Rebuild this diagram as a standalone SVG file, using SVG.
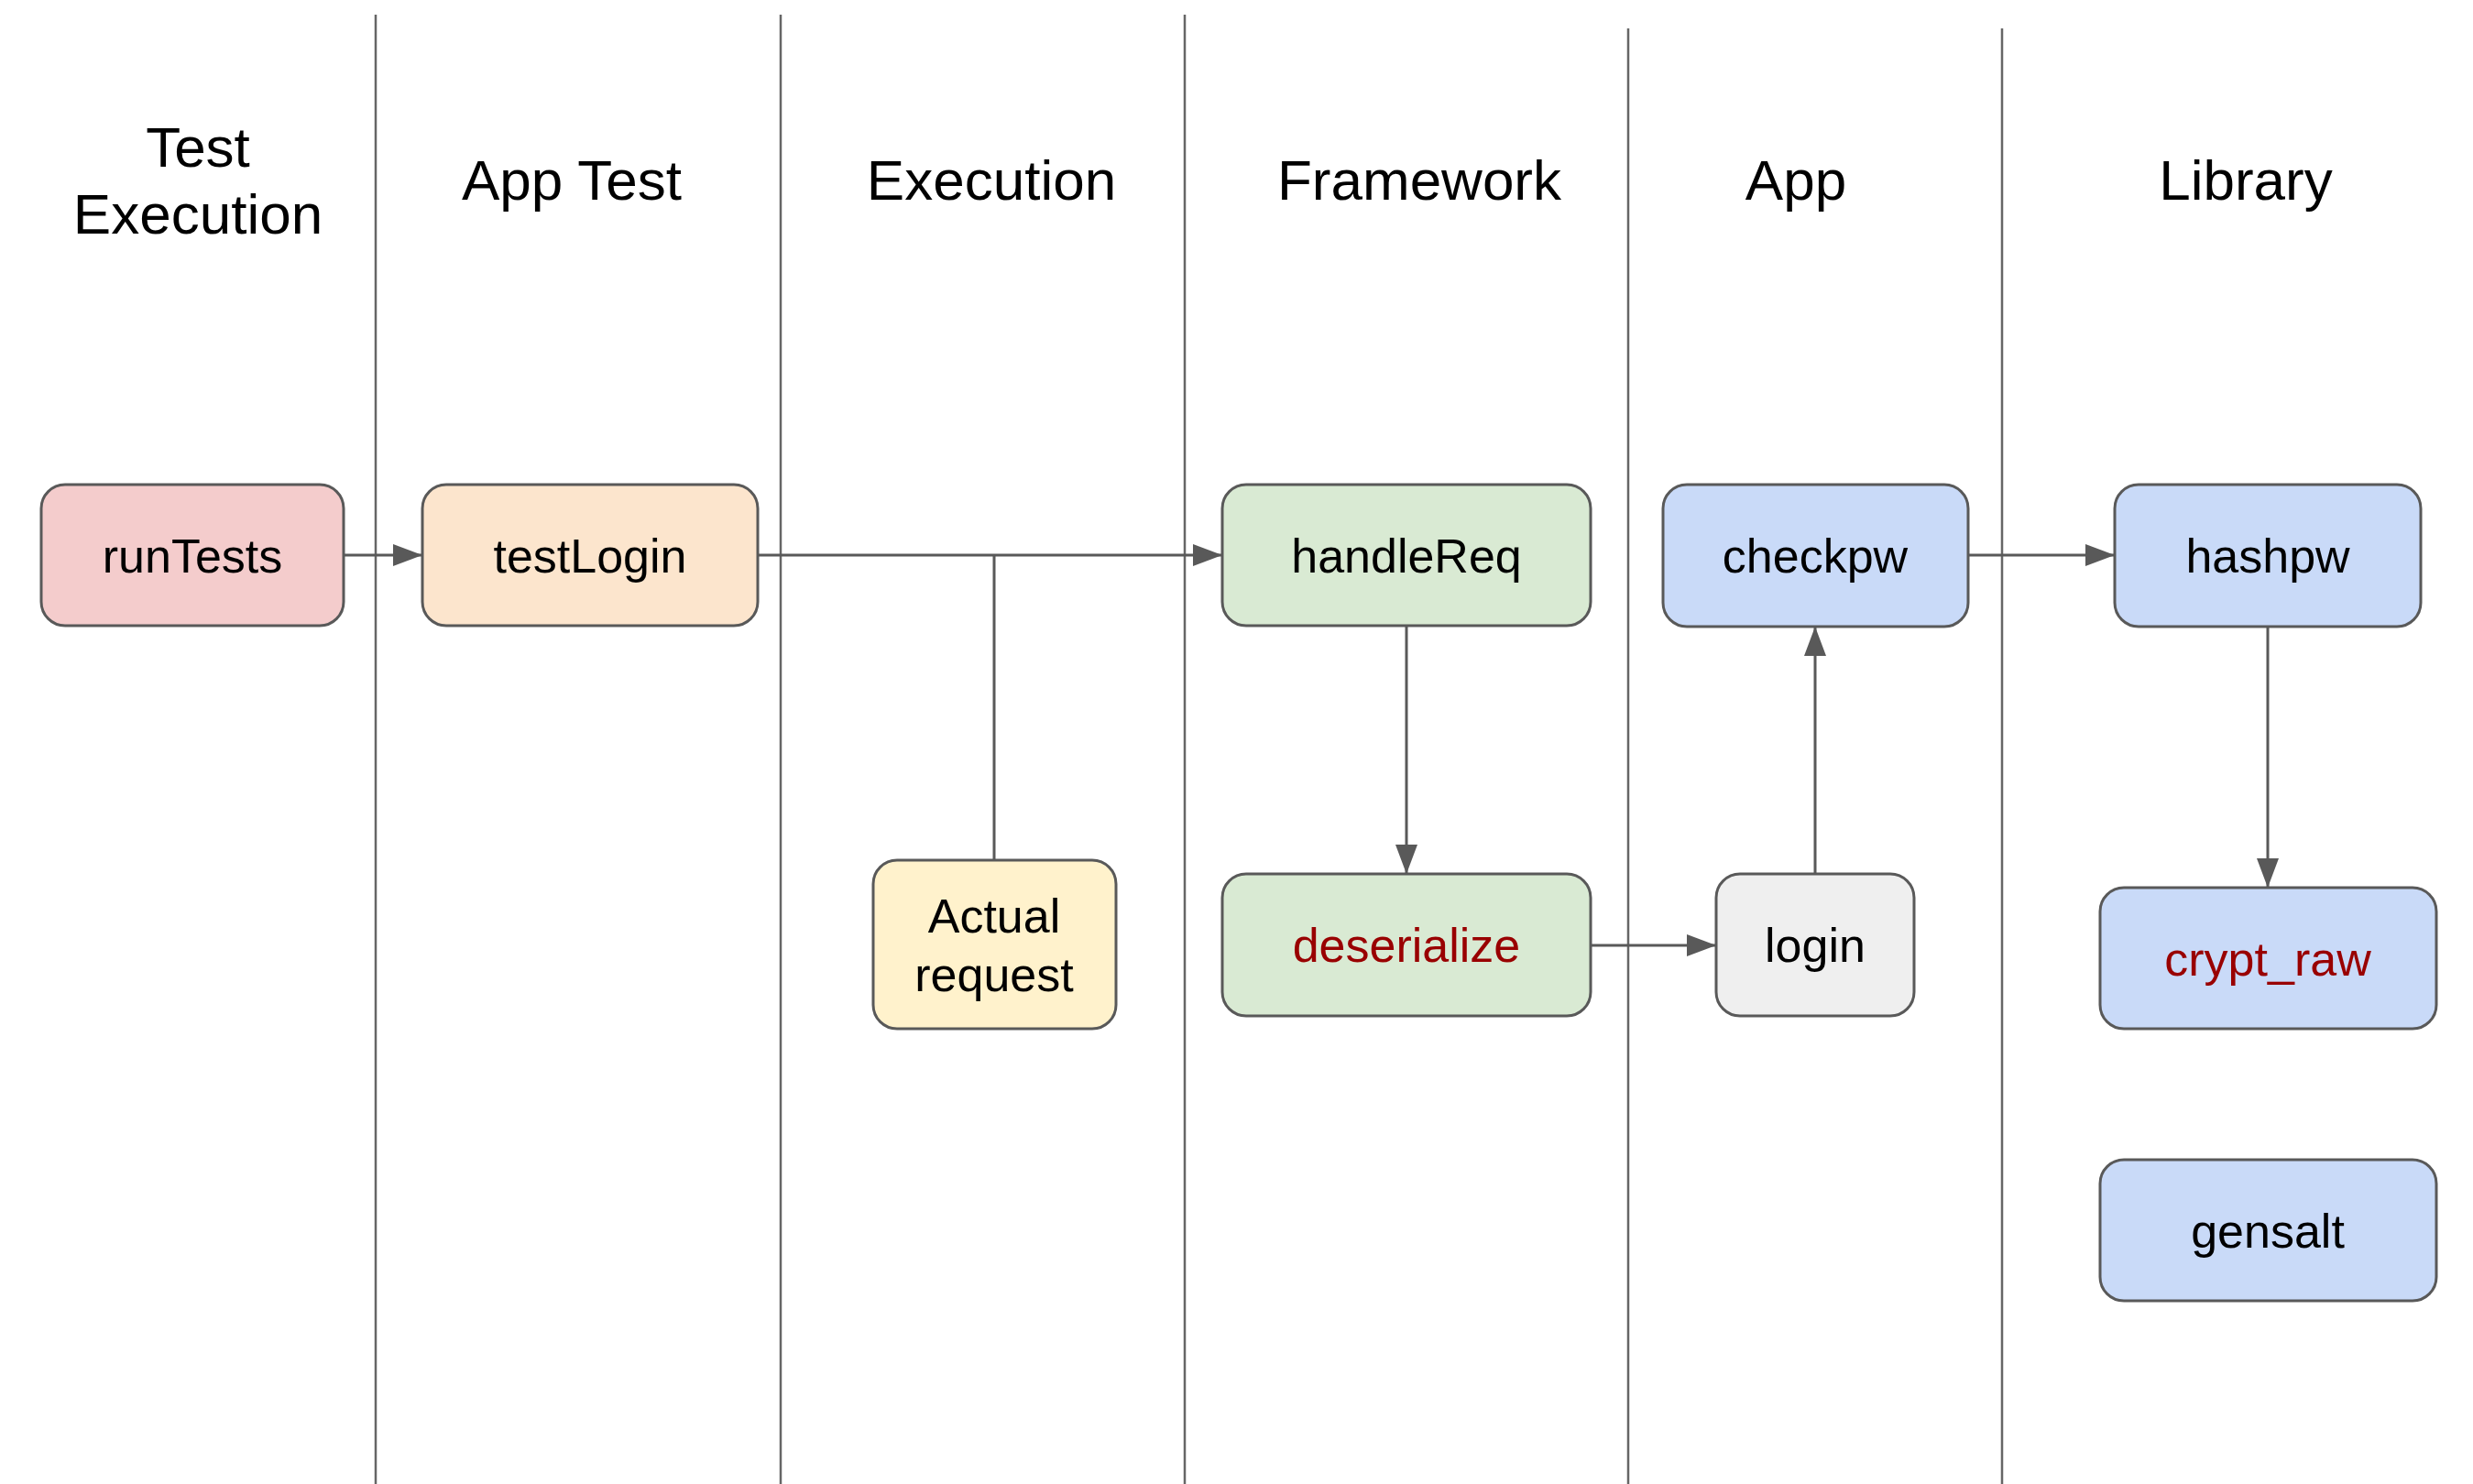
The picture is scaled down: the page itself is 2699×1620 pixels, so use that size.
<svg xmlns="http://www.w3.org/2000/svg" width="2699" height="1620" viewBox="0 0 2699 1620">
<style>
.lane{stroke:#666;stroke-width:2.5;fill:none}
.hdr{font-family:"Liberation Sans",Arial,sans-serif;font-size:62px;fill:#000;text-anchor:middle}
.node rect{stroke:#595959;stroke-width:3}
.node text{font-family:"Liberation Sans",Arial,sans-serif;font-size:52px;fill:#000;text-anchor:middle}
.node text.red{fill:#990000}
.conn{stroke:#595959;stroke-width:3;fill:none}
</style>
<defs>
<marker id="arr" markerUnits="userSpaceOnUse" markerWidth="34" markerHeight="26" refX="32" refY="12" orient="auto">
<path d="M0,0 L32,12 L0,24 Z" fill="#595959"/>
</marker>
</defs>
<rect width="2699" height="1620" fill="#fff"/>
<g id="lanes">
<line class="lane" x1="410" y1="16" x2="410" y2="1620"/>
<line class="lane" x1="852" y1="16" x2="852" y2="1620"/>
<line class="lane" x1="1293" y1="16" x2="1293" y2="1620"/>
<line class="lane" x1="1777" y1="31" x2="1777" y2="1620"/>
<line class="lane" x1="2185" y1="31" x2="2185" y2="1620"/>
</g>
<g id="headers">
<text class="hdr" x="216" y="182">Test</text>
<text class="hdr" x="216" y="255">Execution</text>
<text class="hdr" x="624" y="218">App Test</text>
<text class="hdr" x="1082" y="218">Execution</text>
<text class="hdr" x="1549" y="218">Framework</text>
<text class="hdr" x="1960" y="218">App</text>
<text class="hdr" x="2451" y="218">Library</text>
</g>
<g id="connectors">
<line class="conn" x1="375" y1="606" x2="461" y2="606" marker-end="url(#arr)"/>
<line class="conn" x1="827" y1="606" x2="1334" y2="606" marker-end="url(#arr)"/>
<line class="conn" x1="1085" y1="606" x2="1085" y2="939"/>
<line class="conn" x1="1535" y1="683" x2="1535" y2="954" marker-end="url(#arr)"/>
<line class="conn" x1="1736" y1="1032" x2="1873" y2="1032" marker-end="url(#arr)"/>
<line class="conn" x1="1981" y1="954" x2="1981" y2="684" marker-end="url(#arr)"/>
<line class="conn" x1="2148" y1="606" x2="2308" y2="606" marker-end="url(#arr)"/>
<line class="conn" x1="2475" y1="684" x2="2475" y2="969" marker-end="url(#arr)"/>
</g>
<g id="runTests" class="node">
<rect x="45" y="529" width="330" height="154" rx="26" fill="#f4cccc"/>
<text x="210" y="625">runTests</text>
</g>
<g id="testLogin" class="node">
<rect x="461" y="529" width="366" height="154" rx="26" fill="#fce5cd"/>
<text x="644" y="625">testLogin</text>
</g>
<g id="actualRequest" class="node">
<rect x="953" y="939" width="265" height="184" rx="26" fill="#fff2cc"/>
<text x="1085" y="1018">Actual</text>
<text x="1085" y="1082">request</text>
</g>
<g id="handleReq" class="node">
<rect x="1334" y="529" width="402" height="154" rx="26" fill="#d9ead3"/>
<text x="1535" y="625">handleReq</text>
</g>
<g id="deserialize" class="node">
<rect x="1334" y="954" width="402" height="155" rx="26" fill="#d9ead3"/>
<text class="red" x="1535" y="1050">deserialize</text>
</g>
<g id="checkpw" class="node">
<rect x="1815" y="529" width="333" height="155" rx="26" fill="#c9daf8"/>
<text x="1981" y="625">checkpw</text>
</g>
<g id="login" class="node">
<rect x="1873" y="954" width="216" height="155" rx="26" fill="#efefef"/>
<text x="1981" y="1050">login</text>
</g>
<g id="hashpw" class="node">
<rect x="2308" y="529" width="334" height="155" rx="26" fill="#c9daf8"/>
<text x="2475" y="625">hashpw</text>
</g>
<g id="crypt_raw" class="node">
<rect x="2292" y="969" width="367" height="154" rx="26" fill="#c9daf8"/>
<text class="red" x="2475" y="1065">crypt_raw</text>
</g>
<g id="gensalt" class="node">
<rect x="2292" y="1266" width="367" height="154" rx="26" fill="#c9daf8"/>
<text x="2475" y="1362">gensalt</text>
</g>
</svg>
